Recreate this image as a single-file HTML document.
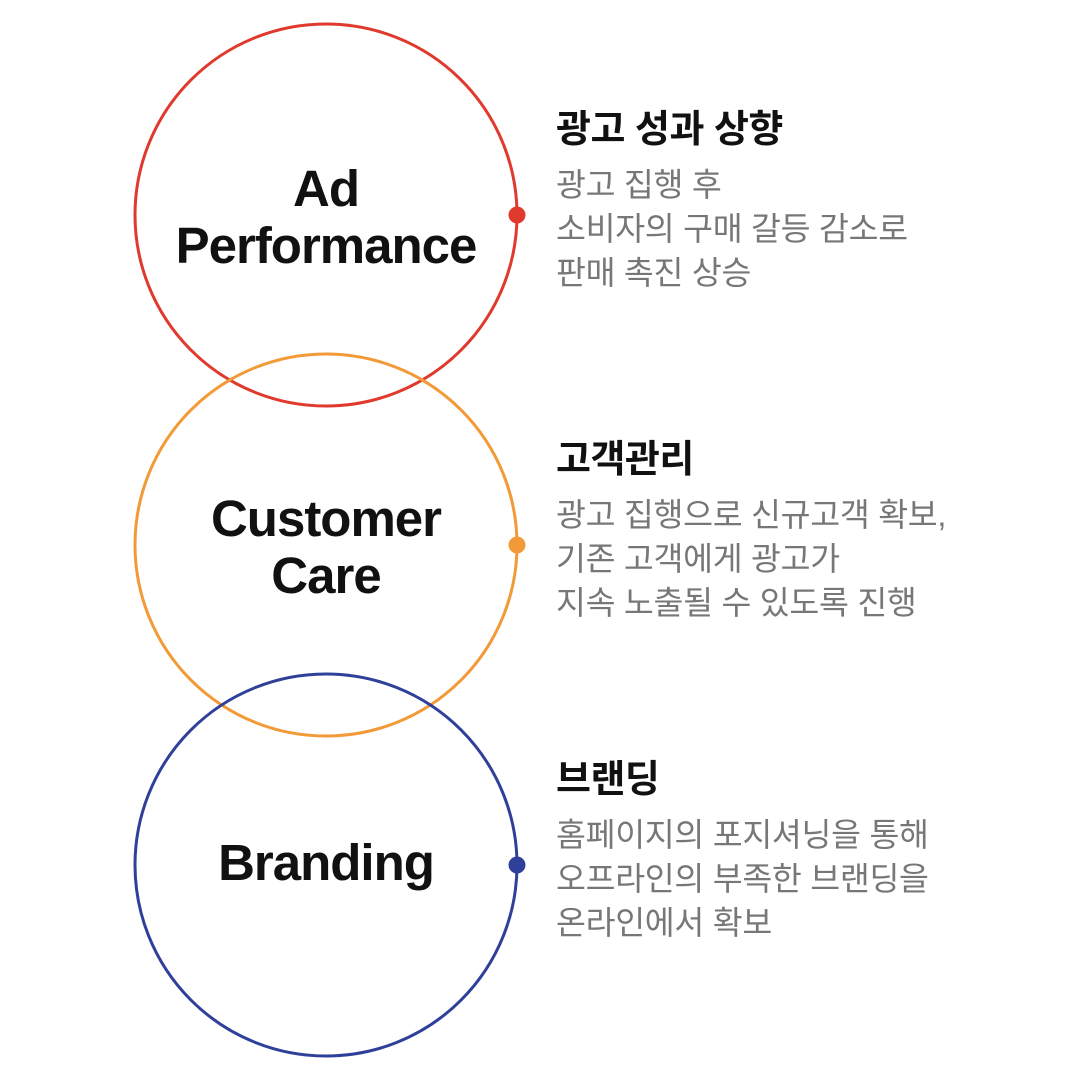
<!DOCTYPE html>
<html><head><meta charset="utf-8"><style>
html,body{margin:0;padding:0;background:#fff;}
body{width:1080px;height:1080px;position:relative;overflow:hidden;font-family:"Liberation Sans","Noto Sans CJK KR",sans-serif;}
svg{position:absolute;left:0;top:0;}
.ct{position:absolute;left:76px;width:500px;text-align:center;font-weight:bold;font-size:51px;line-height:57px;color:#111;letter-spacing:-1px;}
.t{position:absolute;left:556px;font-weight:bold;font-size:38px;color:#111;line-height:44px;letter-spacing:-0.5px;white-space:nowrap;}
.b{position:absolute;left:556px;font-size:32.5px;color:#777;line-height:44px;letter-spacing:-0.3px;white-space:nowrap;}
</style></head><body>
<svg width="1080" height="1080">
<circle cx="326" cy="215" r="191" fill="none" stroke="#e0392d" stroke-width="3"/>
<circle cx="326" cy="545" r="191" fill="none" stroke="#f29a38" stroke-width="3"/>
<circle cx="326" cy="865" r="191" fill="none" stroke="#2f409a" stroke-width="3"/>
<circle cx="517" cy="215" r="8.5" fill="#e0392d"/>
<circle cx="517" cy="545" r="8.5" fill="#f29a38"/>
<circle cx="517" cy="865" r="8.5" fill="#2f409a"/>
</svg>
<div class="ct" style="top:160px">Ad<br>Performance</div>
<div class="ct" style="top:490px">Customer<br>Care</div>
<div class="ct" style="top:834px">Branding</div>
<div class="t" style="top:108px">광고 성과 상향</div>
<div class="b" style="top:163px">광고 집행 후<br>소비자의 구매 갈등 감소로<br>판매 촉진 상승</div>
<div class="t" style="top:438px">고객관리</div>
<div class="b" style="top:493px">광고 집행으로 신규고객 확보,<br>기존 고객에게 광고가<br>지속 노출될 수 있도록 진행</div>
<div class="t" style="top:758px">브랜딩</div>
<div class="b" style="top:813px">홈페이지의 포지셔닝을 통해<br>오프라인의 부족한 브랜딩을<br>온라인에서 확보</div>
</body></html>
